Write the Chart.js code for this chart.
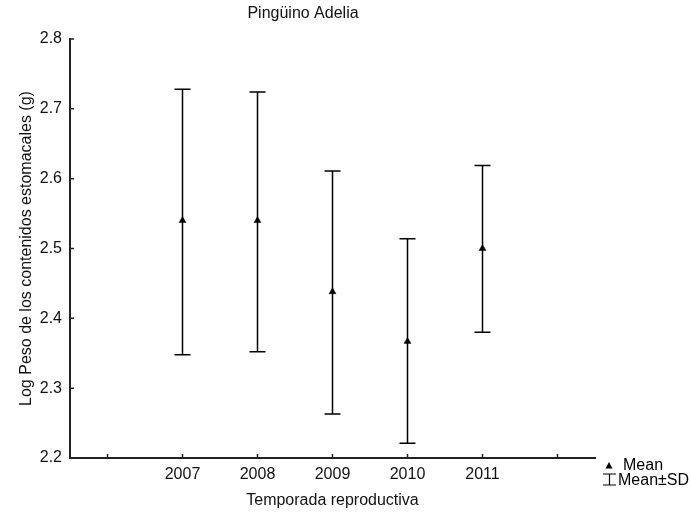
<!DOCTYPE html>
<html>
<head>
<meta charset="utf-8">
<script src="https://cdn.jsdelivr.net/npm/chart.js@4"></script>
<style>
  html, body { margin: 0; padding: 0; background: #fff; }
  #wrap { width: 691px; height: 515px; }
</style>
</head>
<body>
<div id="wrap"><canvas id="grafico" width="691" height="515"></canvas></div>
<script>
// Datos
const temporadas = ['', '2007', '2008', '2009', '2010', '2011', ''];
const medias = [null, 2.54, 2.54, 2.438, 2.367, 2.50, null];
const superior = [null, 2.728, 2.724, 2.611, 2.514, 2.619, null];
const inferior = [null, 2.348, 2.352, 2.263, 2.221, 2.380, null];
const ticksY = [2.2, 2.3, 2.4, 2.5, 2.6, 2.7, 2.8];

const fuente = 'Liberation Sans, Arial, sans-serif';

// barras de error (media +/- DE) dibujadas con las escalas del grafico
const barrasError = {
    id: 'barrasError',
    beforeDatasetsDraw(chart) {
        const ctx = chart.ctx;
        const x = chart.scales.x;
        const y = chart.scales.y;
        ctx.save();
        ctx.strokeStyle = '#000';
        ctx.lineWidth = 1.5;
        for (let i = 0; i < medias.length; i++) {
            if (superior[i] == null) continue;
            const px = x.getPixelForValue(i);
            const yHi = y.getPixelForValue(superior[i]);
            const yLo = y.getPixelForValue(inferior[i]);
            ctx.beginPath();
            ctx.moveTo(px, yHi);
            ctx.lineTo(px, yLo);
            ctx.moveTo(px - 8, yHi);
            ctx.lineTo(px + 8, yHi);
            ctx.moveTo(px - 8, yLo);
            ctx.lineTo(px + 8, yLo);
            ctx.stroke();
        }
        ctx.restore();
    },
    afterDraw(chart) {
        const ctx = chart.ctx;
        const x = chart.scales.x;
        const y = chart.scales.y;
        const area = chart.chartArea;
        ctx.save();
        ctx.strokeStyle = '#222';
        ctx.lineWidth = 1.5;
        // marcas hacia dentro
        ctx.beginPath();
        for (let i = 0; i < temporadas.length; i++) {
            const px = x.getPixelForValue(i);
            ctx.moveTo(px, area.bottom);
            ctx.lineTo(px, area.bottom - 4);
        }
        ticksY.forEach(v => {
            const py = y.getPixelForValue(v);
            ctx.moveTo(area.left, py);
            ctx.lineTo(area.left + 4, py);
        });
        ctx.stroke();

        // titulo
        ctx.fillStyle = '#111';
        ctx.font = '16px ' + fuente;
        ctx.textAlign = 'center';
        ctx.textBaseline = 'middle';
        ctx.fillText('Pingüino Adelia', 303, 14);

        // leyenda
        ctx.textAlign = 'left';
        ctx.fillStyle = '#000';
        ctx.beginPath();
        ctx.moveTo(609, 462);
        ctx.lineTo(612.5, 468.5);
        ctx.lineTo(605.5, 468.5);
        ctx.closePath();
        ctx.fill();
        ctx.fillText('Mean', 623, 466);

        ctx.strokeStyle = '#000';
        ctx.lineWidth = 1.2;
        ctx.beginPath();
        ctx.moveTo(603, 474);
        ctx.lineTo(616, 474);
        ctx.moveTo(609.5, 474);
        ctx.lineTo(609.5, 485);
        ctx.moveTo(603, 485);
        ctx.lineTo(616, 485);
        ctx.stroke();
        ctx.fillText('Mean±SD', 618, 481);
        ctx.restore();
    }
};

const ctx = document.getElementById('grafico').getContext('2d');
const grafico = new Chart(ctx, {
    type: 'line',
    data: {
        labels: temporadas,
        datasets: [{
            label: 'Mean',
            data: medias,
            showLine: false,
            pointStyle: 'triangle',
            pointRadius: 4,
            pointBackgroundColor: '#000',
            pointBorderColor: '#000',
            pointBorderWidth: 0.5
        }]
    },
    options: {
        responsive: false,
        animation: false,
        layout: { padding: { left: 0, right: 0, top: 0, bottom: 0 } },
        plugins: {
            legend: { display: false },
            tooltip: { enabled: false },
            title: { display: false }
        },
        scales: {
            x: {
                type: 'category',
                offset: true,
                grid: { display: false, drawTicks: false, offset: false },
                border: { display: true, color: '#222', width: 2 },
                ticks: {
                    color: '#111',
                    font: { family: fuente, size: 16 },
                    padding: 7,
                    maxRotation: 0,
                    autoSkip: false
                },
                title: {
                    display: true,
                    text: 'Temporada reproductiva',
                    color: '#111',
                    font: { family: fuente, size: 16 },
                    padding: { top: 0, bottom: 5 }
                },
                afterFit: scale => { scale.height = 57; }
            },
            y: {
                min: 2.2,
                max: 2.8,
                grid: { display: false, drawTicks: false },
                border: { display: true, color: '#222', width: 2 },
                afterBuildTicks: scale => {
                    scale.ticks = ticksY.map(v => ({ value: v }));
                },
                ticks: {
                    color: '#111',
                    font: { family: fuente, size: 16 },
                    padding: 8,
                    callback: v => v.toFixed(1)
                },
                title: {
                    display: true,
                    text: 'Log Peso de los contenidos estomacales (g)',
                    color: '#111',
                    font: { family: fuente, size: 16 },
                    padding: { top: 17, bottom: 0 }
                },
                afterFit: scale => { scale.width = 70; }
            }
        }
    },
    plugins: [barrasError, {
        id: 'margenes',
        beforeLayout(chart) {
            // deja sitio arriba y a la derecha como en el original
            chart.options.layout.padding = { left: 0, top: 39, right: 96, bottom: 0 };
        }
    }]
});
</script>
</body>
</html>
